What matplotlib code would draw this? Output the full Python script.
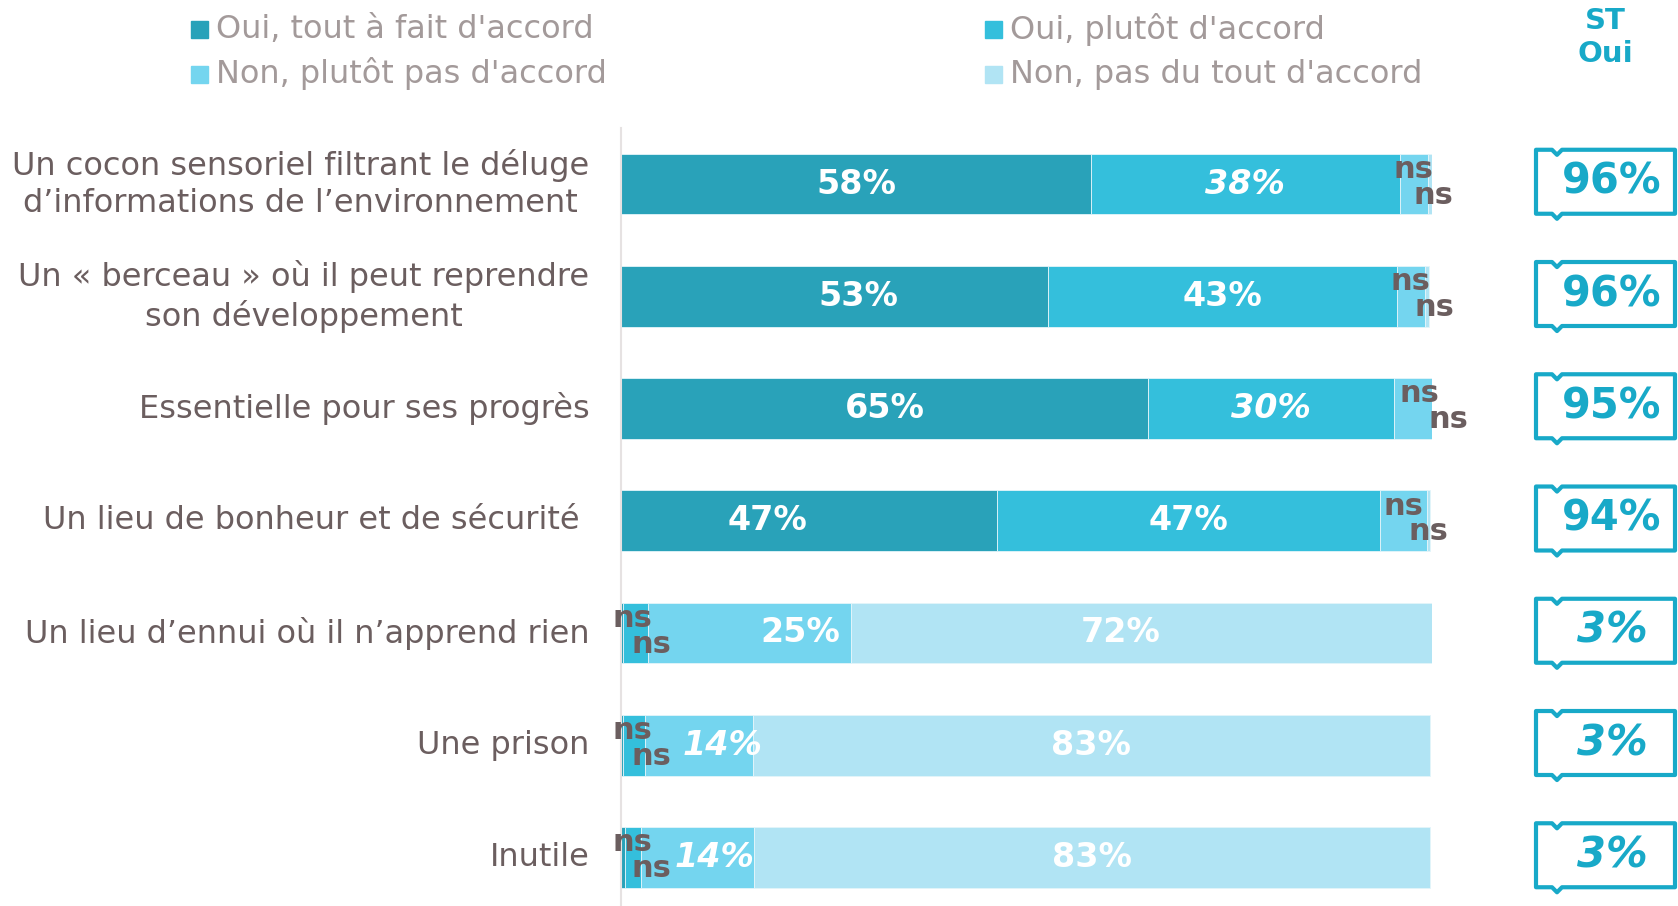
import matplotlib
matplotlib.use("Agg")
import matplotlib.pyplot as plt
from matplotlib import transforms
from matplotlib.patches import Polygon, Rectangle

# --- data -------------------------------------------------------------
categories = [
    "Un cocon sensoriel filtrant le déluge\nd’informations de l’environnement",
    "Un « berceau » où il peut reprendre\nson développement",
    "Essentielle pour ses progrès",
    "Un lieu de bonheur et de sécurité ",
    "Un lieu d’ennui où il n’apprend rien",
    "Une prison",
    "Inutile",
]
series_names = ["Oui, tout à fait d'accord", "Oui, plutôt d'accord",
                "Non, plutôt pas d'accord", "Non, pas du tout d'accord"]

tout_a_fait = [58.0, 52.6, 65.0, 46.4, 0.3, 0.3, 0.5]
plutot_oui = [38.0, 43.1, 30.3, 47.2, 3.0, 2.6, 2.0]
plutot_non = [3.5, 3.4, 4.7, 5.8, 25.0, 13.4, 13.9]
pas_du_tout = [0.5, 0.5, 0.0, 0.4, 71.7, 83.4, 83.4]

labels_1 = ["58%", "53%", "65%", "47%", "ns", "ns", "ns"]
labels_2 = ["38%", "43%", "30%", "47%", "ns", "ns", "ns"]
labels_3 = ["ns", "ns", "ns", "ns", "25%", "14%", "14%"]
labels_4 = ["ns", "ns", "ns", "ns", "72%", "83%", "83%"]
italic_2 = [True, False, True, False, False, False, False]
italic_3 = [False, False, False, False, False, True, True]

st_oui = ["96%", "96%", "95%", "94%", "3%", "3%", "3%"]
st_italic = [False, False, False, False, True, True, True]

colors = ["#29a2b9", "#34bfdc", "#74d5ef", "#b1e4f4"]
text_col = "#6b5e5f"
legend_col = "#a39a9a"
box_col = "#18a9c8"

# small horizontal nudges for some labels (row, segment) -> % units
label_shift = {(1, 0): 3.0, (3, 0): -5.2, (4, 2): 6.3, (4, 3): -2.6,
               (5, 2): 2.9, (6, 2): 2.1, (2, 3): 1.2, (2, 2): 0.8,
               (1, 3): 0.5}

W, H = 1678, 906
fig = plt.figure(figsize=(W / 100, H / 100), dpi=100)
fig.patch.set_facecolor("white")

# overlay in pixel coordinates for legend / header / boxes
over = fig.add_axes([0, 0, 1, 1])
over.set_xlim(0, W)
over.set_ylim(H, 0)
over.axis("off")
over.patch.set_alpha(0)

row_h = 112.25
top_px = 184 - 0.5 * row_h
ax = fig.add_axes([621 / W, 0, 811 / W, (H - top_px) / H])
ax.patch.set_alpha(0)
ax.set_xlim(0, 100)
ax.set_ylim((H - 184) / row_h, -0.5)

series = [tout_a_fait, plutot_oui, plutot_non, pas_du_tout]
labels = [labels_1, labels_2, labels_3, labels_4]
italics = [[False] * 7, italic_2, italic_3, [False] * 7]
ypos = list(range(len(categories)))
bar_h = 0.54

lefts = [0.0] * len(categories)
starts = []
for j, vals in enumerate(series):
    ax.barh(ypos, vals, left=lefts, height=bar_h, color=colors[j],
            edgecolor="#e4f5fa", linewidth=0.6)
    starts.append(list(lefts))
    lefts = [l + v for l, v in zip(lefts, vals)]

for i in ypos:
    ns_segs = []
    for j in range(4):
        c = starts[j][i] + series[j][i] / 2
        lab = labels[j][i]
        if lab == "ns":
            ns_segs.append((j, c))
            continue
        c += label_shift.get((i, j), 0)
        ax.text(c, i, lab, ha="center", va="center", color="white",
                fontsize=24, fontweight="bold",
                fontstyle="italic" if italics[j][i] else "normal")
    (j0, c0), (j1, c1) = ns_segs
    x_up = max(c0, 1.4) + label_shift.get((i, j0), 0)
    x_low = max(c1, x_up + 2.4) + label_shift.get((i, j1), 0)
    ax.text(x_up, i - 0.13, "ns", ha="center", va="center", color=text_col,
            fontsize=22, fontweight="bold", clip_on=False)
    ax.text(x_low, i + 0.1, "ns", ha="center", va="center", color=text_col,
            fontsize=22, fontweight="bold", clip_on=False)

    ax.text(-3.9, i, categories[i], ha="right", va="center",
            multialignment="center", color=text_col, fontsize=23,
            linespacing=1.28)

ax.set_xticks([])
ax.set_yticks([])
for s in ["top", "right", "bottom"]:
    ax.spines[s].set_visible(False)
ax.spines["left"].set_color("#e6e2e2")
ax.spines["left"].set_linewidth(1.5)

# ST Oui boxes (x in pixels, y in row units)
bt = transforms.blended_transform_factory(over.transData, ax.transData)
bl, br, bn = 1536, 1675, 1557
bh = 0.285
d = 0.045
for i in ypos:
    yc = i - 0.02
    t, b = yc - bh, yc + bh
    pts = [(bl, t), (bn - 5, t), (bn, t + d), (bn + 5, t), (br, t),
           (br, b), (bn + 5, b), (bn, b + d), (bn - 5, b), (bl, b)]
    over.add_patch(Polygon(pts, closed=True, fill=False, edgecolor=box_col,
                           linewidth=3, joinstyle="round", transform=bt,
                           clip_on=False))
    over.text(1612, yc, st_oui[i], transform=bt, ha="center", va="center",
              color=box_col, fontsize=30, fontweight="bold",
              fontstyle="italic" if st_italic[i] else "normal")

over.text(1605, 21, "ST", ha="center", va="center", color=box_col,
          fontsize=21, fontweight="bold")
over.text(1605, 54, "Oui", ha="center", va="center", color=box_col,
          fontsize=21, fontweight="bold")

# legend
leg_pos = [(191, 29), (985, 29), (191, 74), (985, 74)]
for (lx, ly), name, col in zip(leg_pos, series_names, colors):
    over.add_patch(Rectangle((lx, ly - 8.5), 17, 17, color=col))
    over.text(lx + 25, ly, name, ha="left", va="center", color=legend_col,
              fontsize=23)

fig.savefig("out.png", dpi=100, facecolor="white")
